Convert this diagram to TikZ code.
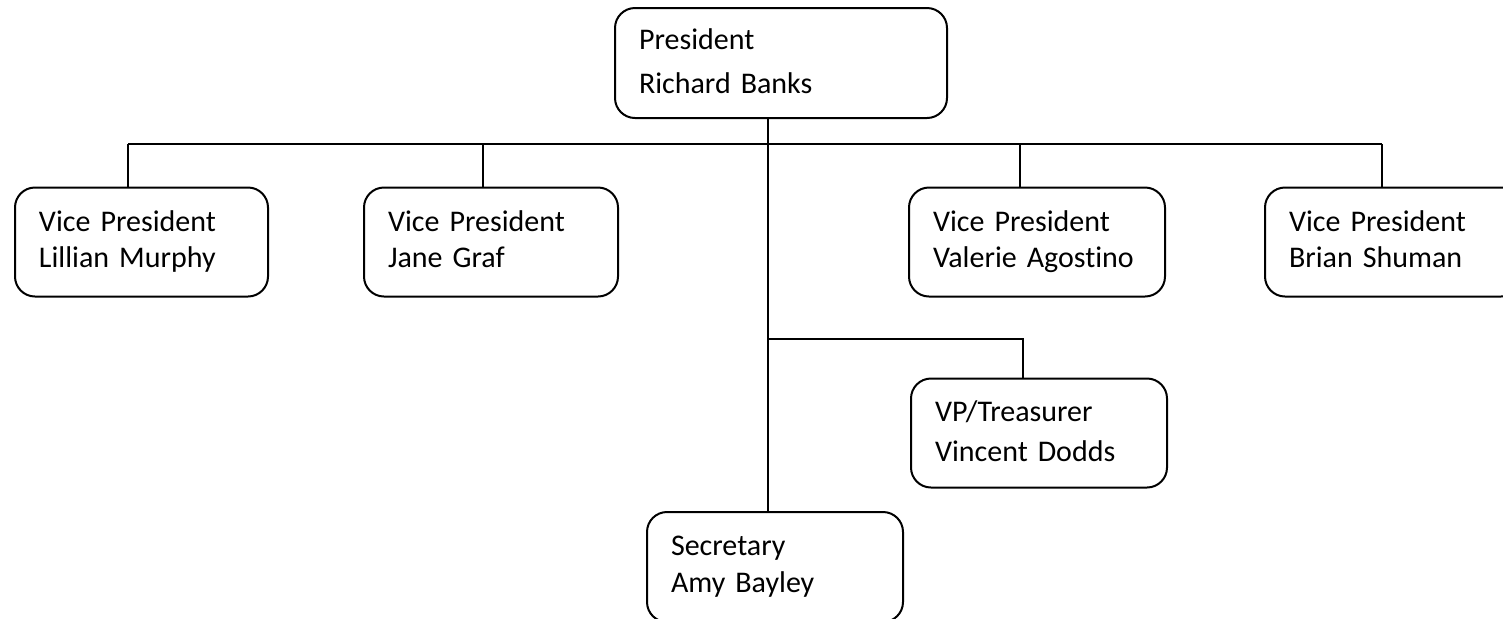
\documentclass[tikz,border=0pt]{standalone}
\usepackage{fontspec}
\setmainfont[Ligatures=NoCommon]{Carlito}
\begin{document}
\begin{tikzpicture}[x=0.5pt,y=-0.5pt,
  box/.style={draw, line width=1pt, rounded corners=10pt, outer sep=0pt,
    inner xsep=12pt, inner ysep=0pt, align=left, text width=104pt,
    minimum height=54.5pt, font=\fontsize{15}{18}\selectfont},
  link/.style={draw, line width=1pt}]
\path[use as bounding box, clip] (0,0) rectangle (1503,618);

\node[box, text width=142pt, minimum height=55pt, font=\fontsize{15}{22}\selectfont] (pres) at (781,63) {\strut President\\Richard Banks\strut};
\node[box, text width=102.5pt] (lil) at (141.5,242) {\strut Vice President\\Lillian Murphy\strut};
\node[box, text width=103pt] (jane) at (491,242) {\strut Vice President\\Jane Graf\strut};
\node[box] (val) at (1037,242) {\strut Vice President\\Valerie Agostino\strut};
\node[box] (brian) at (1393,242) {\strut Vice President\\Brian Shuman\strut};
\node[box, font=\fontsize{15}{20}\selectfont] (treas) at (1039,433) {\strut VP/Treasurer\\Vincent Dodds\strut};
\node[box, minimum height=55pt, font=\fontsize{15}{18.5}\selectfont] (sec) at (775,567) {\strut Secretary\\Amy Bayley\strut};

\coordinate (trunk) at (768,144);
\coordinate (busL) at (128,144);
\coordinate (busR) at (1382,144);
\coordinate (dJane) at (483,144);
\coordinate (dVal) at (1020,144);
\coordinate (tBranch) at (768,339);
\coordinate (tCorner) at (1023,339);

\path[link] (pres.south -| trunk) -- (sec.north -| trunk);
\path[link] (busL) -- (busR);
\path[link] (busL) -- (lil.north -| busL);
\path[link] (dJane) -- (jane.north -| dJane);
\path[link] (dVal) -- (val.north -| dVal);
\path[link] (busR) -- (brian.north -| busR);
\path[link] (tBranch) -- (tCorner) -- (treas.north -| tCorner);
\end{tikzpicture}
\end{document}
